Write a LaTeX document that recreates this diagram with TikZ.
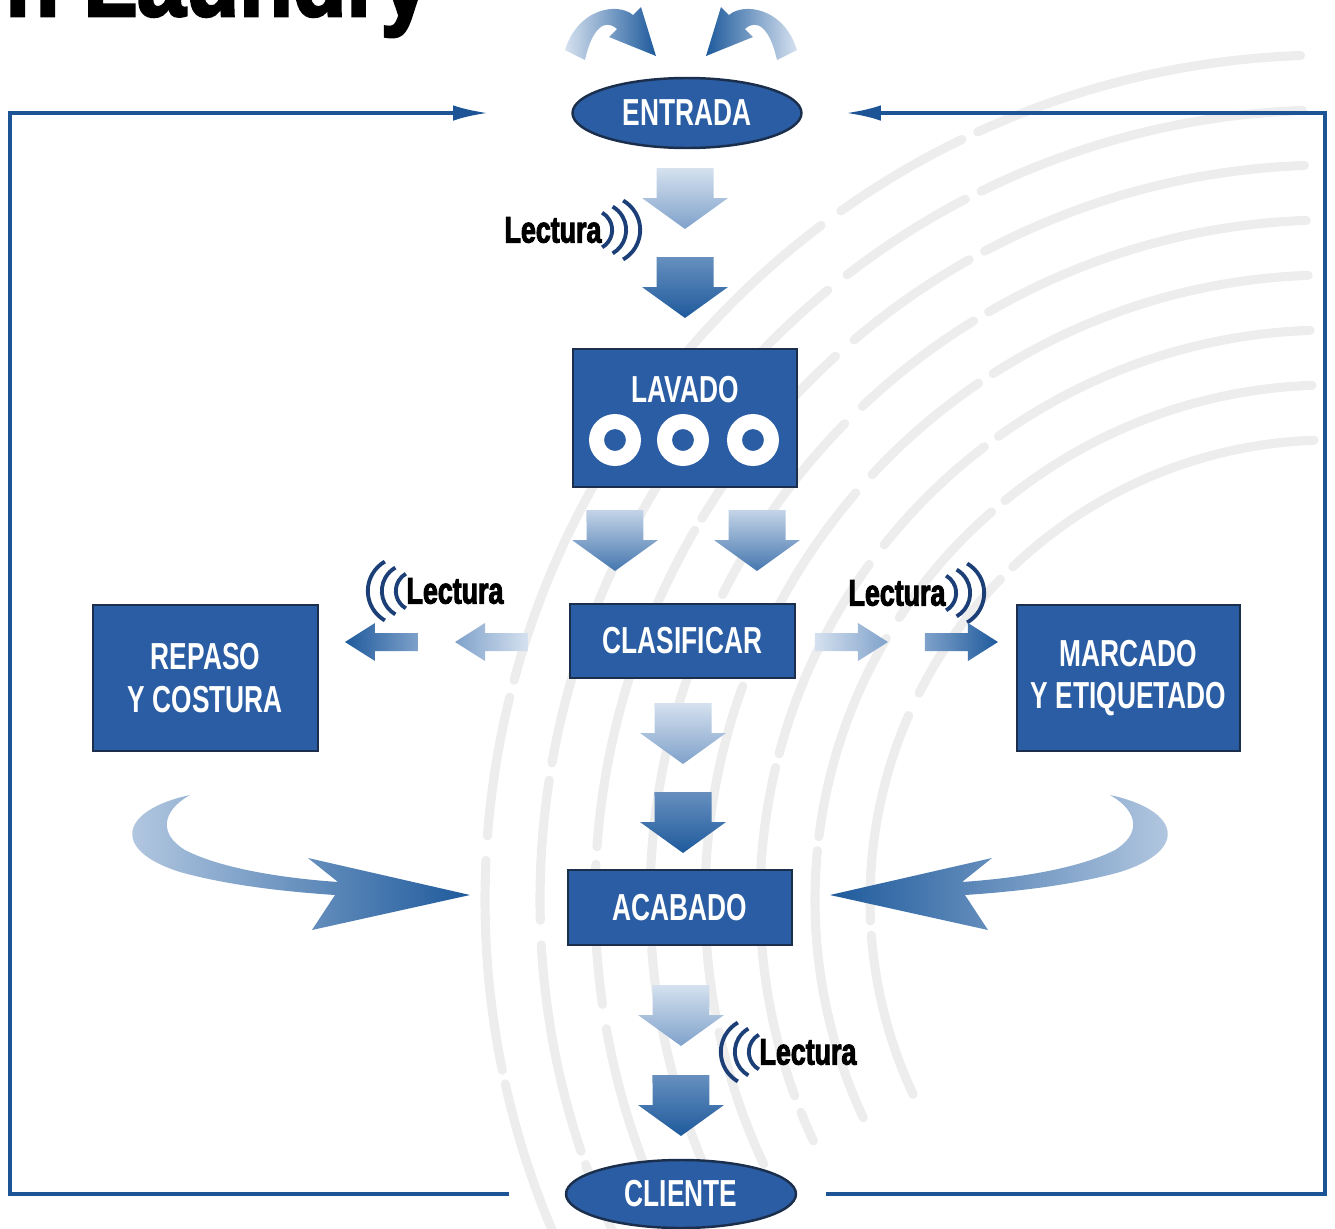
\documentclass[tikz,border=0pt]{standalone}
\usepackage{fontspec}
\usepackage{xcolor}
\usepackage{tikz}
\usetikzlibrary{calc, arrows.meta, positioning, shapes}

\newfontfamily\boxfont[FakeStretch=0.70]{Liberation Sans}
\newfontfamily\readfont[FakeStretch=0.72, BoldFeatures={FakeBold=2.5}]{Liberation Sans}
\newfontfamily\titlefont[FakeStretch=0.86, BoldFeatures={FakeBold=2.5}]{Liberation Sans}

\definecolor{boxblue}{HTML}{2A5DA3}
\definecolor{boxedge}{HTML}{1B2F4D}
\definecolor{frameblue}{HTML}{1D5496}
\definecolor{wavecol}{HTML}{1C3F78}
\definecolor{ridge}{HTML}{EDEDED}
\definecolor{arrpale}{HTML}{D5E1EF}
\definecolor{arrmid}{HTML}{7FA1CA}
\definecolor{arrdeep}{HTML}{1E5A9C}

% fat block arrow pointing down, #1 = top centre, #2 = style
\newcommand{\dnarrow}[2]{%
	\path[#2] (#1) ++(-0.285,0) -- ++(0.57,0) -- ++(0,-0.30) -- ++(0.145,0)
		-- ++(-0.43,-0.31) -- ++(-0.43,0.31) -- ++(0.145,0) -- cycle;}
% small block arrow, #1 = tail centre, #2 = 1 (right) or -1 (left), #3 = style
\newcommand{\sidearrow}[3]{%
	\begin{scope}[shift={(#1)}, xscale=#2]
		\path[#3] (0,0.09) -- (0.43,0.09) -- (0.43,0.19) -- (0.73,0) -- (0.43,-0.19)
			-- (0.43,-0.09) -- (0,-0.09) -- cycle;
	\end{scope}}
% three reading waves, #1 = point next to the word, #2 = 1 (right) or -1 (left)
\newcommand{\waves}[2]{%
	\begin{scope}[shift={(#1)}, xscale=#2]
		\foreach \rad/\off in {0.20/0, 0.27/0.14, 0.34/0.28}
			\draw[wave] (\off-\rad,0) ++(-60:\rad) arc (-60:60:\rad);
	\end{scope}}

\begin{document}
\begin{tikzpicture}[auto, >=latex]
	\tikzstyle{block} = [draw=boxedge, line width=0.7pt, fill=boxblue, rectangle, inner sep=0pt, text=white, align=center, font=\boxfont\bfseries\fontsize{10.7}{12}\selectfont]
	\tikzstyle{oval} = [block, ellipse]
	\tikzstyle{reading} = [inner sep=0pt, text=black, font=\readfont\bfseries\fontsize{10.6}{12}\selectfont]
	\tikzstyle{wave} = [draw=wavecol, line width=1.1pt]
	\tikzstyle{loopline} = [draw=frameblue, line width=1.1pt, -{Latex[length=10pt, width=4.4pt]}]
	\tikzstyle{pale} = [top color=arrpale, bottom color=arrmid]
	\tikzstyle{deep} = [top color=arrmid!75!arrdeep, bottom color=arrdeep]
	\tikzstyle{both} = [top color=arrpale!80!arrmid, bottom color=arrmid!40!arrdeep]
	\tikzstyle{ridgeline} = [draw=ridge, line width=2.6pt, line cap=round, dash pattern=on 95pt off 5pt on 40pt off 7pt on 60pt off 4pt]

	\useasboundingbox (0,0) rectangle (13.35,-12.29);

	% fingerprint behind everything
	\foreach \rad in {4.6,5.15,...,8.9}
		\draw[ridgeline] (13.3,-9.0) ++(92:\rad) arc (92:205:\rad);

	% title, cut off by the page
	\node[anchor=base east, inner sep=0pt, font=\titlefont\bfseries\fontsize{29}{30}\selectfont] (title) at (4.30,-0.16) {n Laundry};

	% stations
	\node[oval, minimum width=2.29cm, minimum height=0.70cm] (entrada) at (6.87,-1.13) {ENTRADA};
	\node[block, minimum width=2.24cm, minimum height=1.38cm] (lavado) at (6.85,-4.18) {};
	\node[block, draw=none, fill=none] (lavtxt) at ([yshift=-0.42cm]lavado.north) {LAVADO};
	\foreach \dx in {-0.70,-0.02,0.68}
		\fill[white, even odd rule] ([xshift=\dx cm, yshift=-0.22cm]lavado.center) circle (0.26)
			([xshift=\dx cm, yshift=-0.22cm]lavado.center) circle (0.11);
	\node[block, minimum width=2.25cm, minimum height=0.74cm] (clasificar) at (6.825,-6.41) {CLASIFICAR};
	\node[block, minimum width=2.25cm, minimum height=1.46cm] (repaso) at (2.055,-6.78) {REPASO\\Y COSTURA};
	\node[block, minimum width=2.23cm, minimum height=1.46cm] (marcado) at (11.285,-6.78) {MARCADO\\Y ETIQUETADO};
	\node[block, minimum width=2.24cm, minimum height=0.75cm] (acabado) at (6.80,-9.075) {ACABADO};
	\node[oval, minimum width=2.30cm, minimum height=0.68cm] (cliente) at (6.81,-11.94) {CLIENTE};

	% readers
	\node[reading] (read1) at (5.53,-2.30) {Lectura};
	\node[reading] (read2) at (4.55,-5.91) {Lectura};
	\node[reading] (read3) at (8.97,-5.93) {Lectura};
	\node[reading] (read4) at (8.08,-10.52) {Lectura};
	\waves{[xshift=0.10cm]read1.east}{1}
	\waves{[xshift=-0.10cm]read2.west}{-1}
	\waves{[xshift=0.10cm]read3.east}{1}
	\waves{[xshift=-0.10cm]read4.west}{-1}

	% block arrows
	\dnarrow{6.85,-1.68}{pale}
	\dnarrow{6.85,-2.57}{deep}
	\dnarrow{6.15,-5.10}{both}
	\dnarrow{7.57,-5.10}{both}
	\dnarrow{6.83,-7.03}{pale}
	\dnarrow{6.83,-7.92}{deep}
	\dnarrow{6.81,-9.85}{pale}
	\dnarrow{6.81,-10.75}{deep}
	\sidearrow{5.28,-6.42}{-1}{left color=arrmid, right color=arrpale}
	\sidearrow{4.18,-6.42}{-1}{left color=arrdeep, right color=arrmid}
	\sidearrow{8.15,-6.42}{1}{left color=arrpale, right color=arrmid}
	\sidearrow{9.25,-6.42}{1}{left color=arrmid, right color=arrdeep}

	% incoming arrows at the top
	\path[left color=arrpale, right color=arrdeep] (5.65,-0.50) .. controls (5.78,-0.08) and (6.18,-0.02) .. (6.33,-0.15)
		-- (6.41,-0.07) -- (6.56,-0.56) -- (6.09,-0.37) -- (6.17,-0.29) .. controls (6.05,-0.18) and (5.92,-0.28) .. (5.85,-0.60) -- cycle;
	\begin{scope}[xshift=13.62cm, xscale=-1]
		\path[left color=arrdeep, right color=arrpale] (5.65,-0.50) .. controls (5.78,-0.08) and (6.18,-0.02) .. (6.33,-0.15)
			-- (6.41,-0.07) -- (6.56,-0.56) -- (6.09,-0.37) -- (6.17,-0.29) .. controls (6.05,-0.18) and (5.92,-0.28) .. (5.85,-0.60) -- cycle;
	\end{scope}

	% sweeping arrows into ACABADO
	\path[left color=arrpale!70!arrmid, right color=arrdeep] (1.90,-7.95) .. controls (1.20,-8.10) and (1.10,-8.50) .. (1.80,-8.72)
		.. controls (2.30,-8.86) and (2.90,-8.92) .. (3.35,-8.95) -- (3.12,-9.30) -- (4.70,-8.95) -- (3.08,-8.58) -- (3.38,-8.82)
		.. controls (2.80,-8.78) and (2.20,-8.68) .. (1.85,-8.50) .. controls (1.60,-8.35) and (1.60,-8.12) .. (1.90,-7.95) -- cycle;
	\begin{scope}[xshift=13cm, xscale=-1]
		\path[left color=arrdeep, right color=arrpale!70!arrmid] (1.90,-7.95) .. controls (1.20,-8.10) and (1.10,-8.50) .. (1.80,-8.72)
			.. controls (2.30,-8.86) and (2.90,-8.92) .. (3.35,-8.95) -- (3.12,-9.30) -- (4.70,-8.95) -- (3.08,-8.58) -- (3.38,-8.82)
			.. controls (2.80,-8.78) and (2.20,-8.68) .. (1.85,-8.50) .. controls (1.60,-8.35) and (1.60,-8.12) .. (1.90,-7.95) -- cycle;
	\end{scope}

	% loop back from CLIENTE to ENTRADA
	\draw[loopline] ([xshift=-0.56cm]cliente.west) -| (0.10,-6) |- ([xshift=-0.83cm]entrada.west);
	\draw[loopline] ([xshift=0.29cm]cliente.east) -| (13.25,-6) |- ([xshift=0.43cm]entrada.east);
\end{tikzpicture}
\end{document}
